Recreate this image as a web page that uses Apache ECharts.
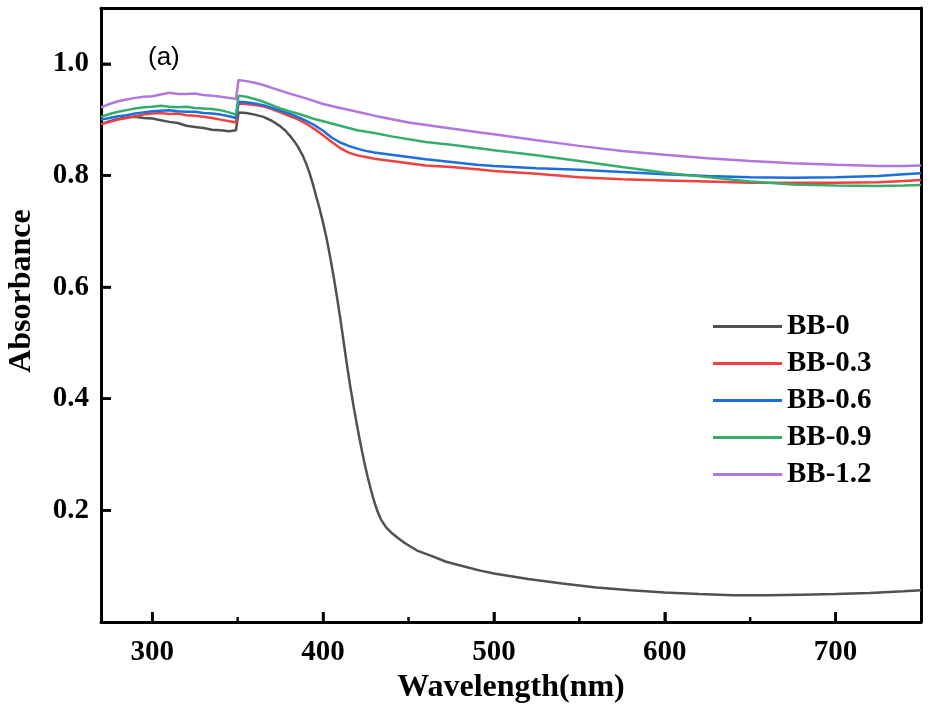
<!DOCTYPE html>
<html>
<head>
<meta charset="utf-8">
<script src="https://cdn.jsdelivr.net/npm/echarts@6.0.0/dist/echarts.min.js"></script>
<style>
  html, body { margin: 0; padding: 0; background: #fff; }
  #chart { width: 933px; height: 712px; }
</style>
</head>
<body>
<div id="chart"></div>
<script>
// wavelength (nm) / absorbance pairs
const bb0 = [
  [270, 0.892], [275, 0.897], [280, 0.901], [285, 0.904], [290, 0.905], [295, 0.903],
  [300, 0.902], [305, 0.899], [310, 0.896], [315, 0.894], [320, 0.889], [325, 0.887],
  [330, 0.885], [335, 0.882], [340, 0.881], [345, 0.879], [349, 0.881], [350, 0.883],
  [350.5, 0.913], [355, 0.912], [360, 0.909], [365, 0.905], [370, 0.898], [375, 0.888],
  [378, 0.880], [382, 0.866], [385, 0.853], [388, 0.836], [390, 0.822], [392, 0.805],
  [394, 0.785], [396, 0.762], [398, 0.740], [400, 0.715], [402, 0.688], [404, 0.656],
  [406, 0.622], [408, 0.585], [410, 0.545], [412, 0.503], [414, 0.460], [416, 0.420],
  [418, 0.384], [420, 0.350], [422, 0.318], [424, 0.288], [426, 0.261], [428, 0.237],
  [430, 0.215], [432, 0.197], [434, 0.183], [437, 0.169], [440, 0.160], [444, 0.150],
  [448, 0.141], [455, 0.128], [463, 0.119], [472, 0.108], [482, 0.100], [492, 0.092],
  [500, 0.087], [520, 0.077], [540, 0.069], [560, 0.062], [580, 0.057], [600, 0.053],
  [620, 0.050], [640, 0.048], [660, 0.048], [680, 0.049], [700, 0.050], [720, 0.052],
  [740, 0.055], [750, 0.057]
];
const bb03 = [
  [270, 0.892], [275, 0.896], [280, 0.900], [285, 0.903], [290, 0.906], [295, 0.909],
  [300, 0.911], [305, 0.912], [310, 0.910], [315, 0.911], [320, 0.908], [325, 0.907],
  [330, 0.905], [335, 0.903], [340, 0.900], [345, 0.897], [349, 0.895], [350, 0.895],
  [350.5, 0.929], [355, 0.928], [360, 0.926], [365, 0.924], [370, 0.919], [375, 0.913],
  [380, 0.907], [385, 0.901], [390, 0.893], [395, 0.883], [400, 0.872], [405, 0.860],
  [410, 0.849], [415, 0.841], [420, 0.836], [425, 0.833], [430, 0.830], [440, 0.826],
  [450, 0.822], [460, 0.818], [475, 0.815], [490, 0.811], [500, 0.808], [525, 0.803],
  [550, 0.797], [575, 0.793], [600, 0.791], [625, 0.789], [650, 0.787], [675, 0.787],
  [700, 0.787], [725, 0.788], [740, 0.790], [750, 0.792]
];
const bb06 = [
  [270, 0.900], [275, 0.903], [280, 0.906], [285, 0.908], [290, 0.911], [295, 0.913],
  [300, 0.915], [305, 0.916], [310, 0.917], [315, 0.915], [320, 0.914], [325, 0.914],
  [330, 0.912], [335, 0.911], [340, 0.909], [345, 0.906], [349, 0.903], [350, 0.903],
  [350.5, 0.932], [355, 0.931], [360, 0.929], [365, 0.926], [370, 0.921], [375, 0.916],
  [380, 0.911], [385, 0.905], [390, 0.898], [395, 0.890], [400, 0.880], [405, 0.868],
  [410, 0.859], [415, 0.853], [420, 0.848], [425, 0.844], [430, 0.841], [440, 0.837],
  [450, 0.833], [460, 0.829], [475, 0.824], [490, 0.819], [500, 0.817], [525, 0.813],
  [550, 0.810], [575, 0.806], [600, 0.802], [625, 0.799], [650, 0.797], [675, 0.796],
  [700, 0.797], [725, 0.799], [740, 0.802], [750, 0.804]
];
const bb09 = [
  [270, 0.905], [275, 0.910], [280, 0.914], [285, 0.917], [290, 0.920], [295, 0.922],
  [300, 0.923], [305, 0.925], [310, 0.923], [315, 0.922], [320, 0.923], [325, 0.921],
  [330, 0.920], [335, 0.919], [340, 0.917], [345, 0.913], [349, 0.909], [350, 0.909],
  [350.5, 0.943], [355, 0.941], [360, 0.937], [365, 0.932], [370, 0.926], [375, 0.920],
  [380, 0.915], [385, 0.911], [390, 0.906], [395, 0.901], [400, 0.897], [405, 0.893],
  [410, 0.889], [420, 0.881], [430, 0.876], [440, 0.870], [460, 0.860], [475, 0.855],
  [490, 0.849], [500, 0.845], [525, 0.836], [550, 0.826], [575, 0.815], [600, 0.805],
  [625, 0.797], [650, 0.789], [675, 0.784], [700, 0.782], [725, 0.781], [740, 0.782],
  [750, 0.783]
];
const bb12 = [
  [270, 0.922], [275, 0.928], [280, 0.933], [285, 0.936], [290, 0.939], [295, 0.941],
  [300, 0.942], [305, 0.945], [310, 0.948], [315, 0.946], [320, 0.946], [325, 0.947],
  [330, 0.944], [335, 0.943], [340, 0.941], [345, 0.939], [349, 0.937], [350, 0.937],
  [350.5, 0.971], [355, 0.969], [360, 0.966], [365, 0.962], [370, 0.957], [375, 0.952],
  [380, 0.947], [390, 0.938], [400, 0.928], [410, 0.921], [420, 0.914], [433, 0.905],
  [450, 0.895], [475, 0.884], [492, 0.877], [500, 0.874], [525, 0.863], [550, 0.853],
  [575, 0.844], [600, 0.837], [625, 0.831], [650, 0.826], [675, 0.822], [700, 0.819],
  [725, 0.817], [740, 0.817], [750, 0.818]
];

const names = ['BB-0', 'BB-0.3', 'BB-0.6', 'BB-0.9', 'BB-1.2'];
const colors = ['#515151', '#F14040', '#1A6FDF', '#37AD6B', '#B177DE'];
const xMajor = [300, 400, 500, 600, 700];
const xMinor = [350, 450, 550, 650];
const yMajor = [0.2, 0.4, 0.6, 0.8, 1.0];
const X_MIN = 270, X_MAX = 750, Y_MIN = 0, Y_MAX = 1.1;

const serif = '"Liberation Serif", "Times New Roman", serif';
const chart = echarts.init(document.getElementById('chart'));

const seriesData = [bb0, bb03, bb06, bb09, bb12];

const frameLine = { show: true, onZero: false, lineStyle: { color: '#000', width: 3 } };
const labelFont = { fontFamily: serif, fontWeight: 'bold', fontSize: 29, color: '#000' };

function frameAxis(pos, min, max) {
  return {
    type: 'value', position: pos, min: min, max: max,
    axisLine: frameLine, axisTick: { show: false }, axisLabel: { show: false },
    splitLine: { show: false }
  };
}

const titles = [{
  id: 'ytitle', type: 'text', x: 22, y: 291, rotation: Math.PI / 2,
  style: { text: 'Absorbance', font: 'bold 32px ' + serif, fill: '#000', align: 'center', verticalAlign: 'middle' }
}, {
  id: 'panel', type: 'text', x: 148, y: 58,
  style: { text: '(a)', font: '26px "Liberation Sans", Arial, sans-serif', fill: '#000', align: 'left', verticalAlign: 'middle' }
}];

const option = {
  animation: false,
  color: colors,
  grid: { left: 101, right: 12, top: 8, bottom: 90 },
  legend: {
    orient: 'vertical',
    left: 708, top: 307,
    icon: 'rect',
    itemWidth: 69, itemHeight: 3,
    itemGap: 8,
    textStyle: Object.assign({ lineHeight: 28 }, labelFont),
    data: names
  },
  xAxis: [{
    type: 'value', min: X_MIN, max: X_MAX, position: 'bottom',
    name: 'Wavelength(nm)', nameLocation: 'middle', nameGap: 49,
    nameTextStyle: { fontFamily: serif, fontWeight: 'bold', fontSize: 32, color: '#000' },
    axisLine: frameLine,
    axisTick: { show: true, inside: true, length: 10, lineStyle: { color: '#000', width: 2.5 }, customValues: xMajor },
    axisLabel: Object.assign({ margin: 16, customValues: xMajor }, labelFont),
    splitLine: { show: false }
  }, frameAxis('top', X_MIN, X_MAX)],
  yAxis: [{
    type: 'value', min: Y_MIN, max: Y_MAX, position: 'left',
    axisLine: frameLine,
    axisTick: { show: true, inside: true, length: 10, lineStyle: { color: '#000', width: 2.5 }, customValues: yMajor },
    axisLabel: Object.assign({ margin: 12, customValues: yMajor, formatter: v => v.toFixed(1) }, labelFont),
    splitLine: { show: false }
  }, frameAxis('right', Y_MIN, Y_MAX)],
  graphic: { elements: titles },
  series: seriesData.map((d, i) => ({
    name: names[i],
    type: 'line',
    data: d,
    showSymbol: false,
    symbol: 'none',
    lineStyle: { width: 2.5, color: colors[i] },
    itemStyle: { color: colors[i] }
  }))
};

chart.setOption(option);

// inward ticks placed from the grid's own value-to-pixel conversion, on a top layer
function tickEl(id, value, dir, len) {
  const p = dir === 'x'
    ? chart.convertToPixel({ gridIndex: 0 }, [value, Y_MIN])
    : chart.convertToPixel({ gridIndex: 0 }, [X_MIN, value]);
  const shape = dir === 'x'
    ? { x1: p[0], y1: p[1], x2: p[0], y2: p[1] - len }
    : { x1: p[0], y1: p[1], x2: p[0] + len, y2: p[1] };
  return { id: id, type: 'line', silent: true, z: 100, zlevel: 1, shape: shape, style: { stroke: '#000', lineWidth: 2.5 } };
}

const tickEls = []
  .concat(xMajor.map((v, i) => tickEl('xt' + i, v, 'x', 10)))
  .concat(xMinor.map((v, i) => tickEl('xm' + i, v, 'x', 5)))
  .concat(yMajor.map((v, i) => tickEl('yt' + i, v, 'y', 10)));

chart.setOption({ graphic: { elements: titles.concat(tickEls) } });
</script>
</body>
</html>
